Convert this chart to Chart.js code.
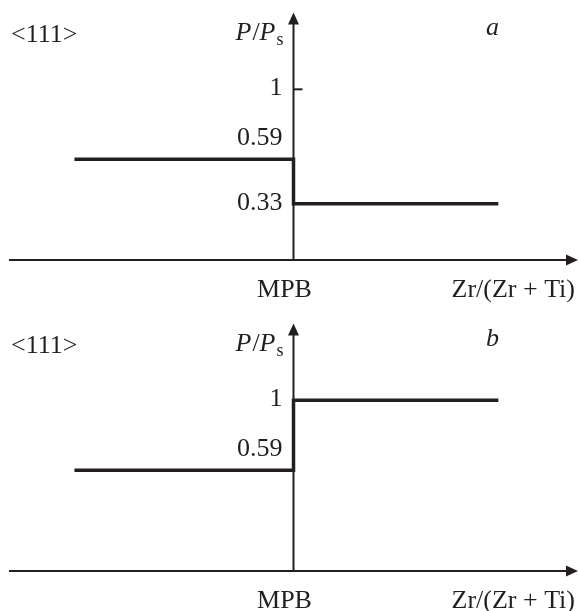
<!DOCTYPE html>
<html>
<head>
<meta charset="utf-8">
<script src="https://cdn.jsdelivr.net/npm/chart.js@4/dist/chart.umd.min.js"></script>
<style>
  html, body { margin: 0; padding: 0; background: #fff; }
  #wrap { position: relative; width: 579px; height: 611px; }
  canvas { position: absolute; left: 0; }
  #panelA { top: 0; }
  #panelB { top: 311px; }
</style>
</head>
<body>
<div id="wrap">
  <canvas id="panelA" width="579" height="311"></canvas>
  <canvas id="panelB" width="579" height="300"></canvas>
</div>
<script>
// composition axis: MPB sits at x = 0
const stepX = [-0.77, 0, 0, 0.72];
const valuesA = [0.59, 0.59, 0.33, 0.33];
const valuesB = [0.59, 0.59, 1, 1];
const ticksA = [1, 0.59, 0.33];
const ticksB = [1, 0.59];
const ink = "#231f20";
const serif = '"Liberation Serif", "Times New Roman", serif';

const schematic = {
  id: "schematic",
  beforeDatasetsDraw(chart, args, opts) {
    const { ctx, chartArea: a, scales: { x, y } } = chart;
    const x0 = x.getPixelForValue(0);
    const y0 = y.getPixelForValue(0);
    ctx.save();
    ctx.strokeStyle = ink;
    ctx.fillStyle = ink;
    ctx.lineWidth = 2;
    // horizontal axis + arrow
    ctx.beginPath();
    ctx.moveTo(a.left, y0);
    ctx.lineTo(a.right - 9, y0);
    ctx.stroke();
    ctx.beginPath();
    ctx.moveTo(a.right, y0);
    ctx.lineTo(a.right - 12, y0 - 5.5);
    ctx.lineTo(a.right - 12, y0 + 5.5);
    ctx.closePath();
    ctx.fill();
    // vertical axis + arrow
    ctx.beginPath();
    ctx.moveTo(x0, y0);
    ctx.lineTo(x0, a.top + 9);
    ctx.stroke();
    ctx.beginPath();
    ctx.moveTo(x0, a.top);
    ctx.lineTo(x0 - 5.5, a.top + 12);
    ctx.lineTo(x0 + 5.5, a.top + 12);
    ctx.closePath();
    ctx.fill();
    // small tick at 1
    const y1 = y.getPixelForValue(1);
    ctx.beginPath();
    ctx.moveTo(x0, y1);
    ctx.lineTo(x0 + 9, y1);
    ctx.stroke();
    ctx.restore();
  },
  afterDraw(chart, args, opts) {
    const { ctx, chartArea: a, scales: { x, y } } = chart;
    const x0 = x.getPixelForValue(0);
    const y0 = y.getPixelForValue(0);
    const plain = "26px " + serif;
    const ital = "italic 26px " + serif;
    ctx.save();
    ctx.fillStyle = ink;

    // tick labels
    ctx.font = plain;
    ctx.textAlign = "right";
    opts.ticks.forEach((v) => {
      const py = y.getPixelForValue(v);
      if (v === opts.values[0]) {
        ctx.textBaseline = "alphabetic";
        ctx.fillText(String(v), x0 - 11, py - 14);
      } else {
        ctx.textBaseline = "middle";
        ctx.fillText(String(v), x0 - 11, py - 1);
      }
    });

    ctx.textBaseline = "alphabetic";
    // P/Ps
    const parts = [
      ["P", ital, 0],
      ["/", plain, 0],
      ["P", ital, 0],
      ["s", "18px " + serif, 5],
    ];
    let total = 0;
    parts.forEach((p) => { ctx.font = p[1]; total += ctx.measureText(p[0]).width; });
    let px = x0 - 12 - total;
    ctx.textAlign = "left";
    parts.forEach((p) => {
      ctx.font = p[1];
      ctx.fillText(p[0], px, a.top + 27 + p[2]);
      px += ctx.measureText(p[0]).width + (p[0] === "P" ? 1 : 0);
    });

    // orientation
    ctx.font = plain;
    ctx.textAlign = "left";
    ctx.fillText("<111>", 11, a.top + 29);

    // panel letter
    ctx.font = ital;
    ctx.textAlign = "right";
    ctx.fillText(opts.letter, 499, a.top + 22);

    // x labels
    ctx.font = plain;
    ctx.textAlign = "center";
    ctx.fillText("MPB", x0 - 9, y0 + 37);
    ctx.textAlign = "right";
    ctx.fillText("Zr/(Zr + Ti)", a.right - 3, y0 + 37);
    ctx.restore();
  },
};

function makePanel(id, values, ticks, letter, bottomPad) {
  const points = stepX.map((xv, i) => ({ x: xv, y: values[i] }));
  return new Chart(document.getElementById(id), {
    type: "scatter",
    plugins: [schematic],
    data: {
      datasets: [
        {
          data: points,
          showLine: true,
          borderColor: ink,
          borderWidth: 3.5,
          borderJoinStyle: "miter",
          borderCapStyle: "butt",
          pointRadius: 0,
          pointHoverRadius: 0,
          tension: 0,
        },
      ],
    },
    options: {
      responsive: false,
      animation: false,
      events: [],
      layout: { padding: { left: 9, right: 1, top: 12.5, bottom: bottomPad } },
      scales: {
        x: { type: "linear", min: -1, max: 1, display: false },
        y: { type: "linear", min: 0, max: 1.45, display: false },
      },
      plugins: {
        legend: { display: false },
        tooltip: { enabled: false },
        schematic: { ticks: ticks, values: values, letter: letter },
      },
    },
  });
}

makePanel("panelA", valuesA, ticksA, "a", 51);
makePanel("panelB", valuesB, ticksB, "b", 40);
</script>
</body>
</html>
